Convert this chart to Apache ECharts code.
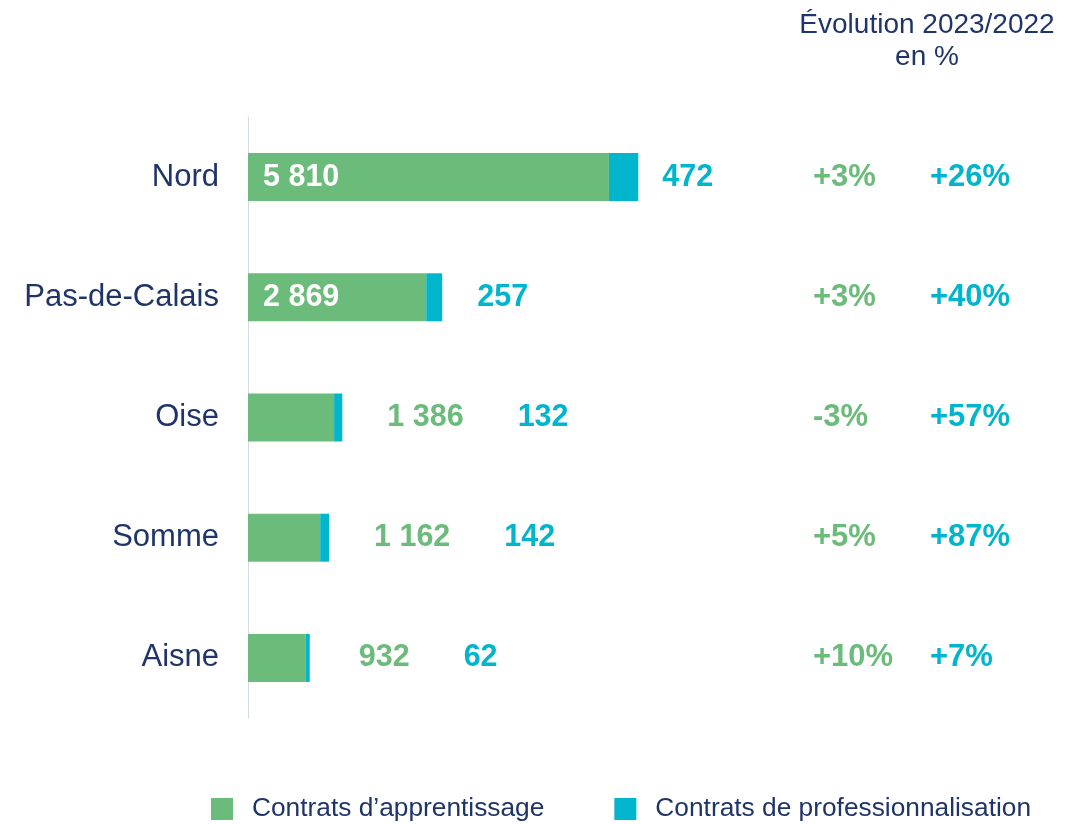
<!DOCTYPE html>
<html>
<head>
<meta charset="utf-8">
<script src="https://cdn.jsdelivr.net/npm/echarts@6/dist/echarts.min.js"></script>
<style>
  html, body { margin: 0; padding: 0; background: #fff; }
  #main { width: 1092px; height: 824px; }
</style>
</head>
<body>
<div id="main"></div>
<script>
// données
var departements = ['Nord', 'Pas-de-Calais', 'Oise', 'Somme', 'Aisne'];
var apprentissage = [5810, 2869, 1386, 1162, 932];
var professionnalisation = [472, 257, 132, 142, 62];
var evolApprentissage = ['+3%', '+3%', '-3%', '+5%', '+10%'];
var evolProfessionnalisation = ['+26%', '+40%', '+57%', '+87%', '+7%'];
var seriesNames = ['Contrats d\u2019apprentissage', 'Contrats de professionnalisation'];

var VERT = '#6bbb7b';
var BLEU = '#00b5cc';
var MARINE = '#1f3468';
var FONT = 'Liberation Sans, Arial, sans-serif';
var VAL_SIZE = 30.5;

function fmt(n) {
    return String(n).replace(/\B(?=(\d{3})+(?!\d))/g, ' ');
}

// grandes barres : étiquette dans la barre, sinon à droite avec l'autre valeur
var insideLimit = 2000;

var dataApp = apprentissage.map(function (v) {
    return {
        value: v,
        label: { show: v >= insideLimit }
    };
});
var dataPro = professionnalisation.map(function (v, i) {
    var big = apprentissage[i] >= insideLimit;
    var gap = big ? (i === 0 ? 24 : 35) : (v < 100 ? 49 : 45);
    return {
        value: v,
        label: { distance: gap }
    };
});

var chart = echarts.init(document.getElementById('main'));
chart.setOption({
    animation: false,
    textStyle: { fontFamily: FONT },
    title: {
        text: 'Évolution 2023/2022\nen %',
        left: 922,
        top: 4,
        textAlign: 'center',
        textStyle: { color: MARINE, fontSize: 28, fontWeight: 'normal', lineHeight: 32, fontFamily: FONT }
    },
    legend: {
        data: seriesNames,
        left: 211,
        top: 796,
        padding: 0,
        icon: 'rect',
        itemWidth: 22,
        itemHeight: 22,
        itemGap: 70,
        textStyle: { color: MARINE, fontSize: 26.3, fontFamily: FONT, padding: [0, 0, 0, 14] }
    },
    grid: { left: 248, right: 347, top: 117, bottom: 106 },
    xAxis: { type: 'value', min: 0, max: 8000, show: false },
    yAxis: [{
        type: 'category',
        data: departements,
        inverse: true,
        axisLine: { show: true, lineStyle: { color: '#d3d9e8', width: 1 } },
        axisTick: { show: false },
        axisLabel: { color: MARINE, fontSize: 31, margin: 29, fontFamily: FONT }
    }, {
        type: 'category',
        data: departements,
        inverse: true,
        position: 'right',
        axisLine: { show: false },
        axisTick: { show: false },
        axisLabel: {
            margin: 68,
            align: 'left',
            formatter: function (v, i) {
                return '{g|' + evolApprentissage[i] + '}{t|' + evolProfessionnalisation[i] + '}';
            },
            rich: {
                g: { color: VERT, fontSize: 31, fontWeight: 'bold', width: 117, fontFamily: FONT },
                t: { color: BLEU, fontSize: 31, fontWeight: 'bold', fontFamily: FONT }
            }
        }
    }],
    series: [{
        name: seriesNames[0],
        type: 'bar',
        stack: 'total',
        barWidth: 48,
        itemStyle: { color: VERT },
        data: dataApp,
        label: {
            position: 'insideLeft',
            distance: 15,
            color: '#fff',
            fontSize: VAL_SIZE,
            fontWeight: 'bold',
            fontFamily: FONT,
            formatter: function (p) { return fmt(p.value); }
        }
    }, {
        name: seriesNames[1],
        type: 'bar',
        stack: 'total',
        barWidth: 48,
        itemStyle: { color: BLEU },
        data: dataPro,
        label: {
            show: true,
            position: 'right',
            fontFamily: FONT,
            formatter: function (p) {
                var i = p.dataIndex;
                if (apprentissage[i] >= insideLimit) {
                    return '{t|' + fmt(p.value) + '}';
                }
                return '{g|' + fmt(apprentissage[i]) + '}{t|' + fmt(p.value) + '}';
            },
            rich: {
                g: { color: VERT, fontSize: VAL_SIZE, fontWeight: 'bold', padding: [0, 54, 0, 0], fontFamily: FONT },
                t: { color: BLEU, fontSize: VAL_SIZE, fontWeight: 'bold', fontFamily: FONT }
            }
        }
    }]
});
</script>
</body>
</html>
